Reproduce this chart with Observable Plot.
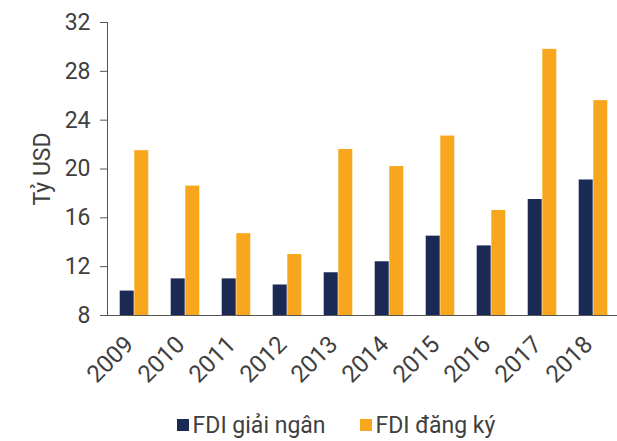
<!DOCTYPE html>
<html>
<head>
<meta charset="utf-8">
<script src="https://cdn.jsdelivr.net/npm/d3@7"></script>
<script src="https://cdn.jsdelivr.net/npm/@observablehq/plot@0.6"></script>
<style>
  html, body { margin: 0; padding: 0; background: #fff; }
  #chart { width: 617px; height: 441px; position: relative; font-family: Roboto, sans-serif; }
  .legend { position: absolute; left: 0; top: 410px; width: 617px; display: flex; justify-content: center; align-items: center; font-size: 23px; color: #404040; height: 30px; padding-left: 55px; box-sizing: border-box; }
  .legend .item { display: flex; align-items: center; margin: 0 17px; }
  .legend .sw { width: 12px; height: 12px; margin-right: 4px; }
</style>
</head>
<body>
<div id="chart"></div>
<script>
const years = ["2009","2010","2011","2012","2013","2014","2015","2016","2017","2018"];
const disbursed = [10.0, 11.0, 11.0, 10.5, 11.5, 12.4, 14.5, 13.7, 17.5, 19.1];
const registered = [21.5, 18.6, 14.7, 13.0, 21.6, 20.2, 22.7, 16.6, 29.8, 25.6];
const seriesNames = ["FDI giải ngân", "FDI đăng ký"];
const seriesColors = ["#1b2a55", "#f8a61d"];
const yTicks = [8, 12, 16, 20, 24, 28, 32];

const dataA = years.map((y, i) => ({year: y, value: disbursed[i]}));
const dataB = years.map((y, i) => ({year: y, value: registered[i]}));

const chart = Plot.plot({
  width: 617,
  height: 400,
  marginLeft: 107,
  marginRight: -4,
  marginTop: 22,
  marginBottom: 85,
  style: {fontFamily: "Roboto, sans-serif", fontSize: "23px", color: "#404040", background: "#fff", overflow: "visible"},
  x: {domain: years, paddingInner: 0.718, paddingOuter: 0.359, axis: null},
  y: {domain: [8, 32], axis: null},
  marks: [
    Plot.barY(dataA, {x: "year", y1: 8, y2: "value", fill: seriesColors[0], dx: -7.3}),
    Plot.barY(dataB, {x: "year", y1: 8, y2: "value", fill: seriesColors[1], dx: 7.3}),
    Plot.axisY({ticks: yTicks, tickSize: 7, tickPadding: 10, stroke: "#555", label: "Tỷ USD", labelArrow: false, labelAnchor: "center", labelOffset: 74, fontSize: 23, fill: "#404040"}),
    Plot.axisX({tickSize: 0, tickRotate: -45, tickPadding: 14, dx: -5, dy: 11, fontSize: 24, fill: "#404040", label: null}),
    Plot.frame({anchor: "left", stroke: "#555"}),
    Plot.ruleY([8], {stroke: "#555", strokeWidth: 1.2})
  ]
});
const root = document.getElementById("chart");
root.appendChild(chart);

const legend = document.createElement("div");
legend.className = "legend";
seriesNames.forEach((name, i) => {
  const item = document.createElement("div");
  item.className = "item";
  const sw = document.createElement("span");
  sw.className = "sw";
  sw.style.background = seriesColors[i];
  item.appendChild(sw);
  const t = document.createElement("span");
  t.textContent = name;
  item.appendChild(t);
  legend.appendChild(item);
});
root.appendChild(legend);
</script>
</body>
</html>
